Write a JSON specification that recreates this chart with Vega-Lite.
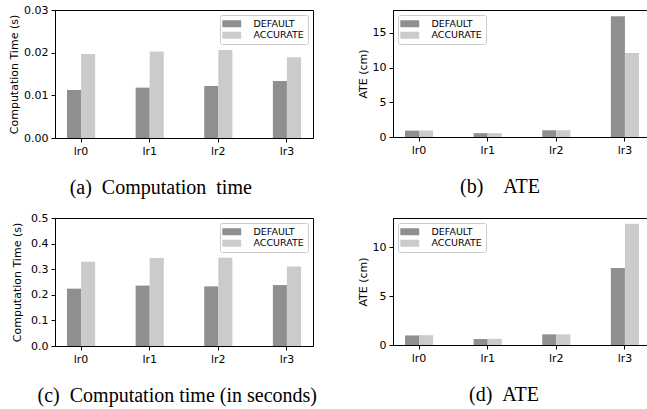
{
  "$schema": "https://vega.github.io/schema/vega-lite/v6.json",
  "padding": {"left": 8, "top": 3, "right": 0, "bottom": 0},
  "config": {
    "font": "DejaVu Sans",
    "background": "white",
    "view": {"stroke": "black", "strokeWidth": 1},
    "axis": {"domainColor": "black", "tickColor": "black", "labelColor": "black", "titleColor": "black", "labelFontSize": 11, "titleFontSize": 11, "titleFontWeight": "normal", "tickSize": 4, "labelPadding": 3, "titlePadding": 4, "grid": false, "domainWidth": 1, "tickWidth": 1, "labelFont": "DejaVu Sans", "titleFont": "DejaVu Sans"},
    "axisX": {"labelAngle": 0, "title": null},
    "legend": {"title": null, "offset": 5, "padding": 4, "fillColor": "rgba(255,255,255,0.8)", "strokeColor": "#cccccc", "cornerRadius": 2, "labelFontSize": 9.5, "labelFont": "DejaVu Sans", "labelColor": "black", "symbolType": "M-2.7,-1H2.7V1H-2.7Z", "symbolSize": 49, "symbolOffset": 3, "labelOffset": 17, "rowPadding": 0.5, "symbolStrokeWidth": 0, "symbolOpacity": 1},
    "title": {"orient": "bottom", "frame": "bounds", "font": "Liberation Serif", "fontSize": 20, "fontWeight": "normal", "color": "black", "anchor": "middle", "offset": 22}
  },
  "spacing": 12,
  "resolve": {"scale": {"y": "independent", "color": "independent", "x": "independent"}, "legend": {"color": "independent"}, "axis": {"y": "independent", "x": "independent"}},
  "vconcat": [
    {
      "spacing": 42,
      "resolve": {"scale": {"y": "independent", "color": "independent", "x": "independent"}, "legend": {"color": "independent"}, "axis": {"y": "independent", "x": "independent"}},
      "hconcat": [
        {
          "width": 258, "height": 128,
          "title": {"text": "(a)\u00a0\u00a0Computation\u00a0 time"},
          "data": {"values": [
            {"run": "lr0", "method": "DEFAULT", "value": 0.01125},
            {"run": "lr0", "method": "ACCURATE", "value": 0.0197},
            {"run": "lr1", "method": "DEFAULT", "value": 0.0118},
            {"run": "lr1", "method": "ACCURATE", "value": 0.0203},
            {"run": "lr2", "method": "DEFAULT", "value": 0.0122},
            {"run": "lr2", "method": "ACCURATE", "value": 0.0206},
            {"run": "lr3", "method": "DEFAULT", "value": 0.01336},
            {"run": "lr3", "method": "ACCURATE", "value": 0.0189}
          ]},
          "mark": {"type": "bar"},
          "encoding": {
            "x": {"field": "run", "type": "nominal", "scale": {"paddingInner": 0.59, "paddingOuter": 0.175}, "axis": {"title": null}},
            "xOffset": {"field": "method", "type": "nominal", "scale": {"domain": ["DEFAULT", "ACCURATE"], "paddingInner": 0, "paddingOuter": 0}},
            "y": {"field": "value", "type": "quantitative", "scale": {"domain": [0, 0.03], "nice": false}, "axis": {"title": "Computation Time (s)", "values": [0, 0.01, 0.02, 0.03], "format": ".2f"}},
            "color": {"field": "method", "type": "nominal", "scale": {"domain": ["DEFAULT", "ACCURATE"], "range": ["#8f8f8f", "#cbcbcb"]}, "legend": {"orient": "top-right"}}
          }
        },
        {
          "width": 258, "height": 127,
          "title": {"text": "(b)\u2003ATE", "dx": -4},
          "layer": [
            {
              "data": {"values": [
                {"run": "lr0", "method": "DEFAULT", "value": 0.92},
                {"run": "lr0", "method": "ACCURATE", "value": 0.94},
                {"run": "lr1", "method": "DEFAULT", "value": 0.55},
                {"run": "lr1", "method": "ACCURATE", "value": 0.56},
                {"run": "lr2", "method": "DEFAULT", "value": 0.97},
                {"run": "lr2", "method": "ACCURATE", "value": 0.98},
                {"run": "lr3", "method": "DEFAULT", "value": 17.4},
                {"run": "lr3", "method": "ACCURATE", "value": 12.1}
              ]},
              "mark": {"type": "bar"},
              "encoding": {
                "x": {"field": "run", "type": "nominal", "scale": {"paddingInner": 0.59, "paddingOuter": 0.175}, "axis": {"title": null}},
                "xOffset": {"field": "method", "type": "nominal", "scale": {"domain": ["DEFAULT", "ACCURATE"], "paddingInner": 0, "paddingOuter": 0}},
                "y": {"field": "value", "type": "quantitative", "scale": {"domain": [0, 18.3], "nice": false}, "axis": {"title": "ATE (cm)", "values": [0, 5, 10, 15]}},
                "color": {"field": "method", "type": "nominal", "scale": {"domain": ["DEFAULT", "ACCURATE"], "range": ["#8f8f8f", "#cbcbcb"]}, "legend": {"orient": "top-left"}}
              }
            },
            {
              "mark": {"type": "rule", "color": "black", "strokeWidth": 1.8, "strokeDash": [7, 3]},
              "encoding": {"y": {"datum": 5, "type": "quantitative"}}
            }
          ]
        }
      ]
    },
    {
      "spacing": 38,
      "resolve": {"scale": {"y": "independent", "color": "independent", "x": "independent"}, "legend": {"color": "independent"}, "axis": {"y": "independent", "x": "independent"}},
      "hconcat": [
        {
          "width": 258, "height": 128,
          "title": {"text": "(c)\u00a0\u00a0Computation time (in seconds)", "dx": 15},
          "data": {"values": [
            {"run": "lr0", "method": "DEFAULT", "value": 0.224},
            {"run": "lr0", "method": "ACCURATE", "value": 0.329},
            {"run": "lr1", "method": "DEFAULT", "value": 0.236},
            {"run": "lr1", "method": "ACCURATE", "value": 0.344},
            {"run": "lr2", "method": "DEFAULT", "value": 0.233},
            {"run": "lr2", "method": "ACCURATE", "value": 0.345},
            {"run": "lr3", "method": "DEFAULT", "value": 0.238},
            {"run": "lr3", "method": "ACCURATE", "value": 0.311}
          ]},
          "mark": {"type": "bar"},
          "encoding": {
            "x": {"field": "run", "type": "nominal", "scale": {"paddingInner": 0.59, "paddingOuter": 0.175}, "axis": {"title": null}},
            "xOffset": {"field": "method", "type": "nominal", "scale": {"domain": ["DEFAULT", "ACCURATE"], "paddingInner": 0, "paddingOuter": 0}},
            "y": {"field": "value", "type": "quantitative", "scale": {"domain": [0, 0.5], "nice": false}, "axis": {"title": "Computation Time (s)", "values": [0, 0.1, 0.2, 0.3, 0.4, 0.5], "format": ".1f", "titlePadding": 8}},
            "color": {"field": "method", "type": "nominal", "scale": {"domain": ["DEFAULT", "ACCURATE"], "range": ["#8f8f8f", "#cbcbcb"]}, "legend": {"orient": "top-right"}}
          }
        },
        {
          "width": 258, "height": 127,
          "title": {"text": "(d)\u00a0\u00a0ATE"},
          "layer": [
            {
              "data": {"values": [
                {"run": "lr0", "method": "DEFAULT", "value": 0.98},
                {"run": "lr0", "method": "ACCURATE", "value": 1.0},
                {"run": "lr1", "method": "DEFAULT", "value": 0.61},
                {"run": "lr1", "method": "ACCURATE", "value": 0.63},
                {"run": "lr2", "method": "DEFAULT", "value": 1.09},
                {"run": "lr2", "method": "ACCURATE", "value": 1.09},
                {"run": "lr3", "method": "DEFAULT", "value": 7.89},
                {"run": "lr3", "method": "ACCURATE", "value": 12.4}
              ]},
              "mark": {"type": "bar"},
              "encoding": {
                "x": {"field": "run", "type": "nominal", "scale": {"paddingInner": 0.59, "paddingOuter": 0.175}, "axis": {"title": null}},
                "xOffset": {"field": "method", "type": "nominal", "scale": {"domain": ["DEFAULT", "ACCURATE"], "paddingInner": 0, "paddingOuter": 0}},
                "y": {"field": "value", "type": "quantitative", "scale": {"domain": [0, 13.0], "nice": false}, "axis": {"title": "ATE (cm)", "values": [0, 5, 10]}},
                "color": {"field": "method", "type": "nominal", "scale": {"domain": ["DEFAULT", "ACCURATE"], "range": ["#8f8f8f", "#cbcbcb"]}, "legend": {"orient": "top-left"}}
              }
            },
            {
              "mark": {"type": "rule", "color": "black", "strokeWidth": 1.8, "strokeDash": [7, 3]},
              "encoding": {"y": {"datum": 5, "type": "quantitative"}}
            }
          ]
        }
      ]
    }
  ]
}
